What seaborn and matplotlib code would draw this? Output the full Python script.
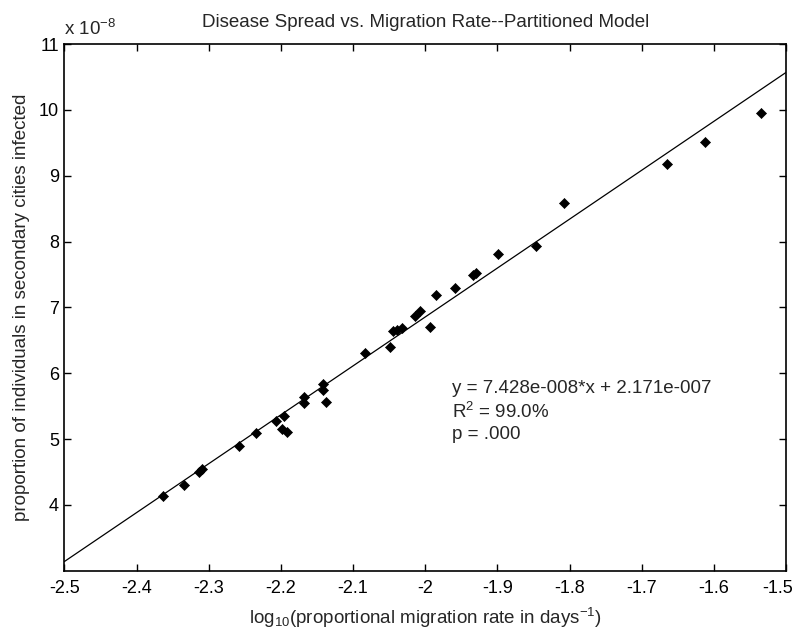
import numpy as np
import pandas as pd
import seaborn as sns
import matplotlib
matplotlib.use("Agg")
import matplotlib.pyplot as plt
import matplotlib.transforms as mtransforms

# log10 migration rate (x) and proportion infected, in units of 1e-8 (y)
log_rate = [-2.363, -2.335, -2.314, -2.309, -2.258, -2.235, -2.2075, -2.199,
            -2.196, -2.192, -2.168, -2.168, -2.142, -2.141, -2.137, -2.084,
            -2.049, -2.044, -2.039, -2.0326, -2.0145, -2.0076, -1.994, -1.9845,
            -1.959, -1.934, -1.929, -1.899, -1.846, -1.8082, -1.665, -1.612, -1.534]
infected = [4.133, 4.296, 4.495, 4.547, 4.891, 5.088, 5.281, 5.155,
            5.347, 5.114, 5.545, 5.636, 5.738, 5.829, 5.56, 6.305,
            6.397, 6.64, 6.65, 6.691, 6.873, 6.944, 6.70, 7.183,
            7.299, 7.487, 7.52, 7.816, 7.928, 8.592, 9.185, 9.51, 9.955]

# fitted line as reported on the chart
fit_slope = 7.428e-8
fit_intercept = 2.171e-7
x_limits = [-2.5, -1.5]
x_ticks = [-2.5, -2.4, -2.3, -2.2, -2.1, -2.0, -1.9, -1.8, -1.7, -1.6, -1.5]
y_ticks = [4, 5, 6, 7, 8, 9, 10, 11]

sns.set_theme(style="ticks")
plt.rcParams['font.family'] = ['Liberation Sans', 'DejaVu Sans']
plt.rcParams['mathtext.fontset'] = 'custom'
plt.rcParams['mathtext.rm'] = 'Liberation Sans'
plt.rcParams['mathtext.it'] = 'Liberation Sans'
plt.rcParams['axes.unicode_minus'] = False

fs = 13.5

df = pd.DataFrame({'x': log_rate, 'y': infected})
fit = pd.DataFrame({'x': x_limits})
fit['y'] = (fit_slope * fit['x'] + fit_intercept) / 1e-8

fig = plt.figure(figsize=(7.99, 6.39), dpi=100)
ax = fig.add_axes([0.0807, 0.1069, 0.9030, 0.8242])

sns.lineplot(data=fit, x='x', y='y', color='black', linewidth=0.9, ax=ax)
sns.scatterplot(data=df, x='x', y='y', marker='D', s=26, color='black',
                edgecolor='black', linewidth=0.5, ax=ax, zorder=3)

ax.set_xlim(x_limits)
ax.set_ylim(3, 11)
ax.set_xticks(x_ticks)
ax.set_xticklabels(['%g' % t for t in x_ticks])
ax.set_yticks(y_ticks)
ax.set_yticklabels([str(t) for t in y_ticks])
ax.tick_params(direction='in', top=True, right=True, length=5, width=1,
               labelsize=13, colors='black')
ax.tick_params(axis='x', pad=7)
ax.tick_params(axis='y', pad=4)
for sp in ax.spines.values():
    sp.set_color('black')
    sp.set_linewidth(1.2)

# last x label sits a little left of its tick, as in the original
last = ax.get_xticklabels()[-1]
last.set_transform(last.get_transform() + mtransforms.ScaledTranslation(-8 / 100, 0, fig.dpi_scale_trans))

ax.set_title('Disease Spread vs. Migration Rate--Partitioned Model',
             fontsize=fs, pad=12)
ax.set_xlabel('log$_{10}$(proportional migration rate in days$^{-1}$)', fontsize=fs, labelpad=6)
ax.set_ylabel('proportion of individuals in secondary cities infected', fontsize=fs, labelpad=6)
ax.text(0.0, 1.01, 'x 10$^{-8}$', transform=ax.transAxes, fontsize=fs,
        ha='left', va='bottom')

ax.text(-1.963, 5.90,
        'y = 7.428e-008*x + 2.171e-007\nR$^2$ = 99.0%\np = .000',
        fontsize=fs, ha='left', va='top', linespacing=1.3)

fig.savefig('out.png', dpi=100)
